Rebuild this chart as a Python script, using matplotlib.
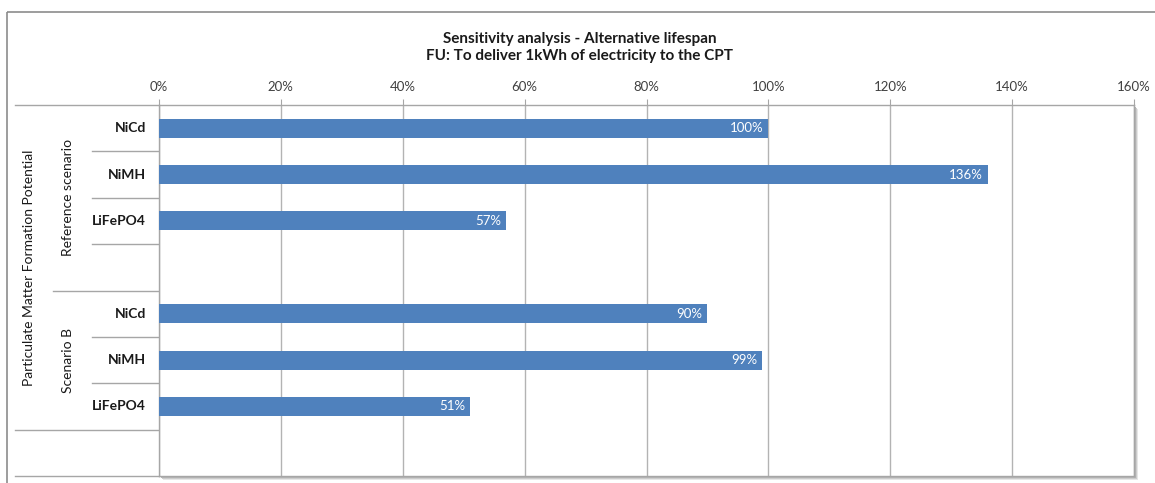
import matplotlib
matplotlib.use("Agg")
import matplotlib.pyplot as plt
from matplotlib.patches import Rectangle
from matplotlib.lines import Line2D
from matplotlib.transforms import blended_transform_factory, Affine2D
from matplotlib.ticker import FuncFormatter

plt.rcParams['font.family'] = ['Lato', 'DejaVu Sans']

# Data
title_lines = ["Sensitivity analysis - Alternative lifespan",
               "FU: To deliver 1kWh of electricity to the CPT"]
outer_label = "Particulate Matter Formation Potential"
scenarios = ["Reference scenario", "Scenario B"]
batteries = ["NiCd", "NiMH", "LiFePO4"]
reference_values = [1.00, 1.36, 0.57]
scenario_b_values = [0.90, 0.99, 0.51]
x_ticks = [0.0, 0.2, 0.4, 0.6, 0.8, 1.0, 1.2, 1.4, 1.6]

W, H = 1155, 483
fig = plt.figure(figsize=(W / 100, H / 100), dpi=100, facecolor="white")

# pixel-based figure transform (origin top-left)
px = Affine2D().scale(1 / W, -1 / H).translate(0, 1) + fig.transFigure

# outer chart frame
fig.patches.append(Rectangle((7, 12), 1200, 500, transform=px, fill=False,
                             edgecolor="#8c8c8c", lw=1.2, zorder=0))

L, R, T, B = 159, 1134, 105, 476
# plot-area drop shadow
for off, col in [(4, "#e6e6e6"), (3, "#cccccc"), (2, "#b4b4b4")]:
    fig.patches.append(Rectangle((L + off, T + off), R - L, B - T,
                                 transform=px, facecolor=col, edgecolor="none",
                                 zorder=-1))

ax = fig.add_axes([L / W, 1 - B / H, (R - L) / W, (B - T) / H])
ax.set_zorder(3)
ax.set_facecolor("white")

# rows: 3 batteries + blank for each scenario, then one blank outer row
rows_ref = [0, 1, 2]
rows_b = [4, 5, 6]
bar_h = 0.41
bar_color = "#4F81BD"
for rows, vals in [(rows_ref, reference_values), (rows_b, scenario_b_values)]:
    bars = ax.barh(rows, vals, height=bar_h, color=bar_color, zorder=3)
    for rect, v in zip(bars, vals):
        ax.text(v - 0.008, rect.get_y() + rect.get_height() / 2, f"{v * 100:.0f}%",
                ha="right", va="center", color="white", fontsize=9.5, zorder=4)

ax.set_xlim(0, 1.6)
ax.set_ylim(7.5, -0.5)
ax.xaxis.tick_top()
ax.set_xticks(x_ticks)
ax.xaxis.set_major_formatter(FuncFormatter(lambda v, p: f"{v * 100:.0f}%"))
ax.tick_params(axis="x", length=4, color="#a6a6a6", labelsize=9.5,
               labelcolor="#404040", pad=5)
ax.set_yticks([])
ax.grid(axis="x", color="#b3b3b3", lw=1.0, zorder=1)
for s in ax.spines.values():
    s.set_color("#a6a6a6")
    s.set_linewidth(1.0)

# multi-level category axis on the left
bt = blended_transform_factory(px, ax.transData)
line_kw = dict(color="#a6a6a6", lw=1.0, transform=bt, clip_on=False)
inner_x, mid_x, outer_x = 92, 53, 15
for y in [0.5, 1.5, 2.5, 4.5, 5.5]:
    fig.add_artist(Line2D([inner_x, L], [y, y], **line_kw))
fig.add_artist(Line2D([mid_x, L], [3.5, 3.5], **line_kw))
for y in [-0.5, 6.5, 7.5]:
    fig.add_artist(Line2D([outer_x, L], [y, y], **line_kw))

for rows in (rows_ref, rows_b):
    for r, name in zip(rows, batteries):
        ax.text(146, r, name, transform=bt, ha="right", va="center",
                fontsize=10, fontweight="bold", color="#1a1a1a")

ax.text(68, 1.5, scenarios[0], transform=bt, rotation=90, ha="center",
        va="center", fontsize=10, color="#1a1a1a")
ax.text(68, 5.0, scenarios[1], transform=bt, rotation=90, ha="center",
        va="center", fontsize=10, color="#1a1a1a")
ax.text(29, 3.0, outer_label, transform=bt, rotation=90, ha="center",
        va="center", fontsize=10, color="#1a1a1a")

# title
fig.text(580, 39, title_lines[0], transform=px, ha="center", va="center",
         fontsize=11, fontweight="bold", color="#1a1a1a")
fig.text(580, 56, title_lines[1], transform=px, ha="center", va="center",
         fontsize=11, fontweight="bold", color="#1a1a1a")

fig.savefig("out.png", dpi=100, facecolor="white")
